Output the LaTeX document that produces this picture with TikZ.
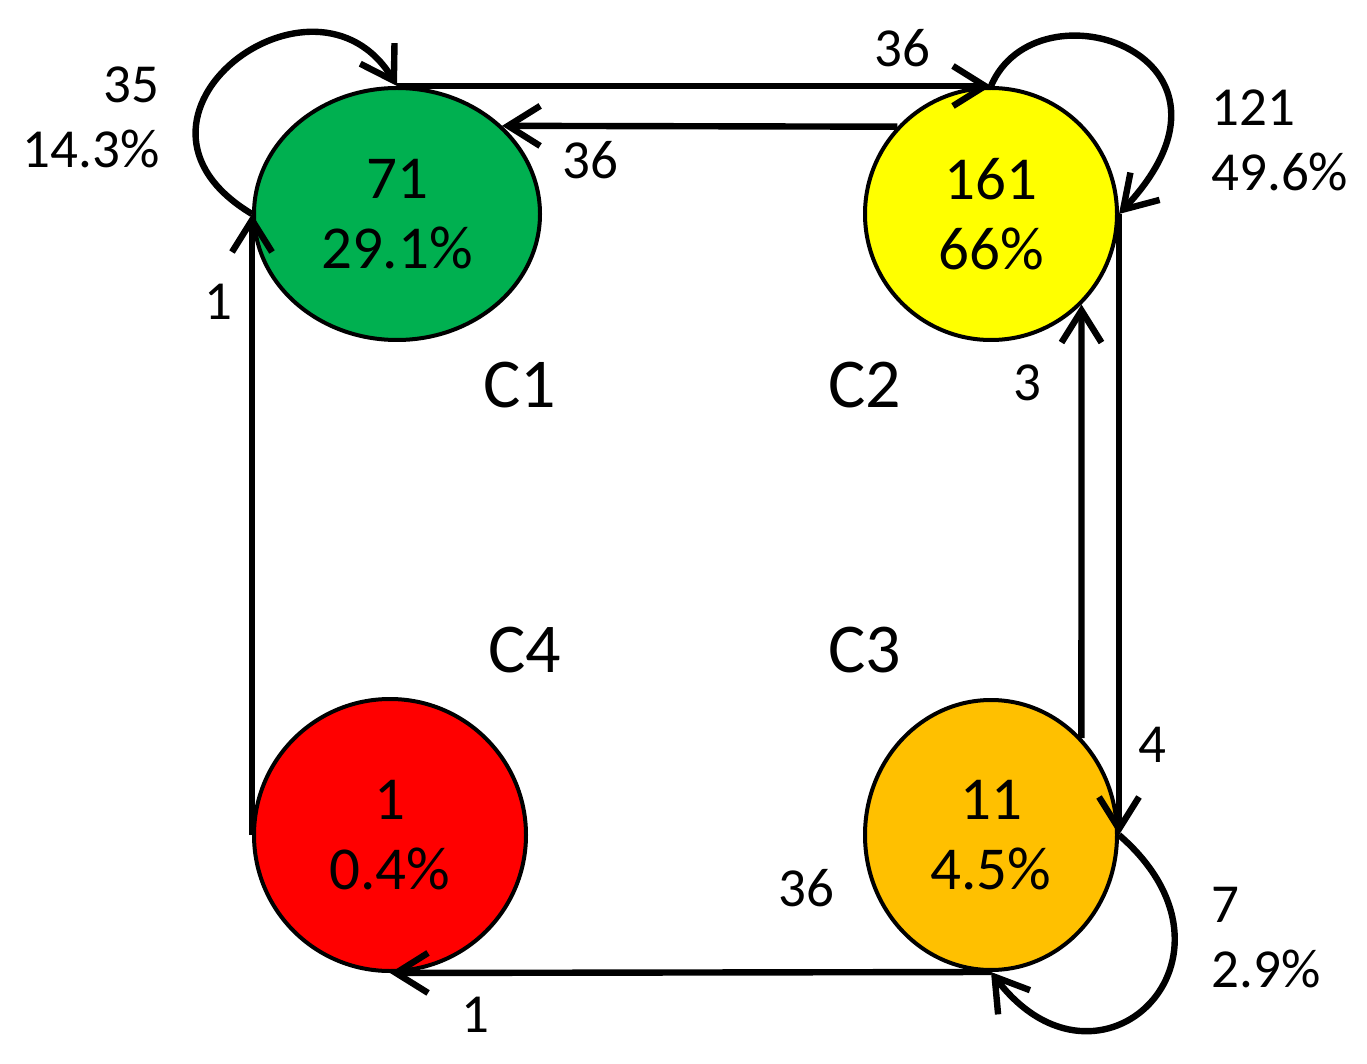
\documentclass[tikz,border=0pt]{standalone}
\usepackage{fontspec}
\setmainfont{Carlito}
\usetikzlibrary{shapes.geometric,arrows.meta}
\definecolor{cgreen}{HTML}{00B050}
\definecolor{cyellow}{HTML}{FFFF00}
\definecolor{corange}{HTML}{FFC000}
\definecolor{cred}{HTML}{FF0000}
\begin{document}
\begin{tikzpicture}[x=0.5pt,y=-0.5pt,
  state/.style={ellipse,draw=black,line width=2pt,inner sep=0pt,align=center,font=\fontsize{30.5}{35}\selectfont},
  conn/.style={line width=3.2pt,-{Straight Barb[length=16pt,width=20pt]}},
  lbl/.style={font=\fontsize{27.5}{32.5}\selectfont,inner sep=0pt},
  clbl/.style={font=\fontsize{35}{40}\selectfont,inner sep=0pt}]
\useasboundingbox (0,0) rectangle (1367,1064);
\node[state,fill=cgreen,minimum width=143pt,minimum height=126pt] (C1) at (397,214) {71\\29.1\%};
\node[state,fill=cyellow,minimum width=126pt,minimum height=126pt] (C2) at (991,214) {161\\66\%};
\node[state,fill=corange,minimum width=126pt,minimum height=135pt] (C3) at (991,835) {11\\4.5\%};
\node[state,fill=cred,minimum width=136pt,minimum height=136pt] (C4) at (390,835) {1\\0.4\%};

\draw[conn] (C1.north) -- (C2.north);
\draw[conn] (C2.137) -- (C1.40);
\draw[conn] (C2.east) -- (C3.east);
\draw[conn] (C3.47) -- (C2.315);
\draw[conn] (C3.south) -- (C4.south);
\draw[conn] (C4.west) -- (C1.west);

\draw[conn] (C1.west) .. controls (92,118) and (315,-50) .. (C1.north);
\draw[conn] (C2.north) .. controls (1037,-22) and (1268,55) .. (C2.east);
\draw[conn] (C3.east) .. controls (1261,958) and (1099,1114) .. (C3.south);

\node[lbl,align=right,anchor=east] (l1) at (160,117) {35\\14.3\%};
\node[lbl] (l2) at (902,48) {36};
\node[lbl] (l3) at (590,160) {36};
\node[lbl,align=left,anchor=west] (l4) at (1211,140) {121\\49.6\%};
\node[lbl] (l5) at (218,302) {1};
\node[lbl] (l6) at (1027,383) {3};
\node[lbl] (l7) at (1152,745) {4};
\node[lbl] (l8) at (806,888) {36};
\node[lbl,align=left,anchor=west] (l9) at (1211,938) {7\\2.9\%};
\node[lbl] (l10) at (475,1015) {1};

\node[clbl] (n1) at (520,385) {C1};
\node[clbl] (n2) at (865,385) {C2};
\node[clbl] (n3) at (865,650) {C3};
\node[clbl] (n4) at (525,650) {C4};
\end{tikzpicture}
\end{document}
